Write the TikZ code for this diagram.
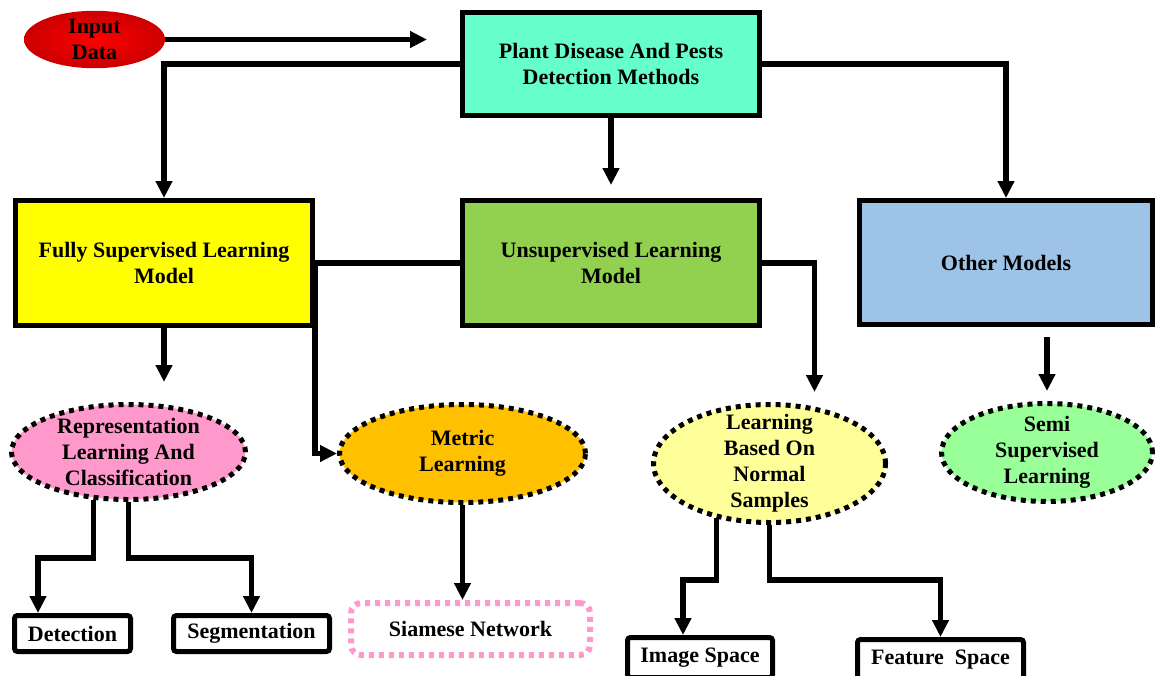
\documentclass[tikz,border=0pt]{standalone}
\usepackage{fontspec}
\setmainfont{Liberation Serif}
\usepackage{xcolor}
\usepackage{tikz}
\usetikzlibrary{arrows.meta, shapes.geometric, positioning}

\definecolor{aquabox}{HTML}{66FFCC}
\definecolor{supbox}{HTML}{FFFF00}
\definecolor{unsupbox}{HTML}{92D050}
\definecolor{otherbox}{HTML}{9DC3E6}
\definecolor{reprfill}{HTML}{FF99CC}
\definecolor{metricfill}{HTML}{FFC000}
\definecolor{normfill}{HTML}{FFFF99}
\definecolor{semifill}{HTML}{99FF99}
\definecolor{inputred}{HTML}{FF0000}

\begin{document}
\begin{tikzpicture}[x=1pt, y=-1pt,
    font=\fontsize{22}{26}\selectfont\bfseries,
    box/.style={draw, line width=5pt, rectangle, align=center, inner sep=0pt},
    oval/.style={draw, ellipse, line width=5pt, dash pattern=on 5pt off 5pt,
        align=center, inner xsep=0pt, inner ysep=-14pt},
    leaf/.style={draw, line width=5pt, rounded corners=3pt, inner sep=0pt, fill=white},
    link/.style={line width=5.5pt},
    arr/.style={link, -{Triangle[length=17pt, width=16pt]}}]
    \useasboundingbox (0,0) rectangle (1155,675);

    % Input and main block
    \node[ellipse, inner sep=0pt, minimum width=141pt, minimum height=55pt,
        inner color=inputred, outer color=inputred!80!black, align=center] (input) at (94.5,39.5) {Input\\Data};
    \node[box, fill=aquabox, minimum width=297pt, minimum height=103pt] (top) at (611,64)
        {Plant Disease And Pests\\Detection Methods};

    % Three model families
    \node[box, fill=supbox, minimum width=297pt, minimum height=125pt] (sup) at (164,263)
        {Fully Supervised Learning\\Model};
    \node[box, fill=unsupbox, minimum width=297pt, minimum height=125pt] (unsup) at (611,263)
        {Unsupervised Learning\\Model};
    \node[box, fill=otherbox, minimum width=293pt, minimum height=124pt] (other) at (1006,262.5)
        {Other Models};

    % Sub methods
    \node[oval, fill=reprfill, minimum width=234pt, minimum height=95pt] (repr) at (128.5,452)
        {Representation\\Learning And\\Classification};
    \node[oval, fill=metricfill, minimum width=246pt, minimum height=98pt] (metric) at (462.5,453.5)
        {Metric\\Learning};
    \node[oval, fill=normfill, minimum width=232pt, minimum height=118pt] (normal) at (769.5,463.5)
        {Learning\\Based On\\Normal\\Samples};
    \node[oval, fill=semifill, minimum width=211pt, minimum height=98pt] (semi) at (1047,452.5)
        {Semi\\Supervised\\Learning};

    % Leaves
    \node[leaf, minimum width=116pt, minimum height=36pt] (det) at (72.5,633.5) {Detection};
    \node[leaf, minimum width=156pt, minimum height=36pt] (seg) at (251.5,633.5) {Segmentation};
    \node[draw=reprfill, line width=6pt, dash pattern=on 5pt off 5pt, rounded corners=10pt,
        inner sep=0pt, minimum width=239pt, minimum height=52pt] (siam) at (470.5,629) {Siamese Network};
    \node[leaf, minimum width=145pt, minimum height=40pt] (img) at (700,657.5) {Image Space};
    \node[leaf, minimum width=166pt, minimum height=40pt] (feat) at (940.5,659.5) {Feature~ Space};

    \coordinate (normtip) at (814.5,392);

    % Arrows
    \draw[arr, shorten >=33pt] (input.east) -- (input.east -| top.west);
    \draw[arr] (top.west) -| (sup.north);
    \draw[arr] (top.east) -| (other.north);
    \draw[arr, shorten >=13pt] (top.south) -- (unsup.north);
    \draw[link] (unsup.west) -- (sup.east);
    \draw[arr] (sup.east) |- (metric.west);
    \draw[arr] (unsup.east) -| (normtip);
    \draw[arr, shorten >=20pt] (sup.south) -- (sup.south |- repr.north);
    \draw[arr, shorten <=10pt, shorten >=10pt] (semi.north |- other.south) -- (semi.north);
    \draw[arr] (repr.-126) -- (repr.-126 |- 0,558) -| ([xshift=26pt]det.north west);
    \draw[arr] (repr.south) -- (repr.south |- 0,558) -| (seg.north);
    \draw[arr] (metric.south) -- (metric.south |- siam.north);
    \draw[arr] (normal.-134) -- (normal.-134 |- 0,580) -| ([xshift=58pt]img.north west);
    \draw[arr] (normal.south) -- (normal.south |- 0,580) -| (feat.north);
\end{tikzpicture}
\end{document}
